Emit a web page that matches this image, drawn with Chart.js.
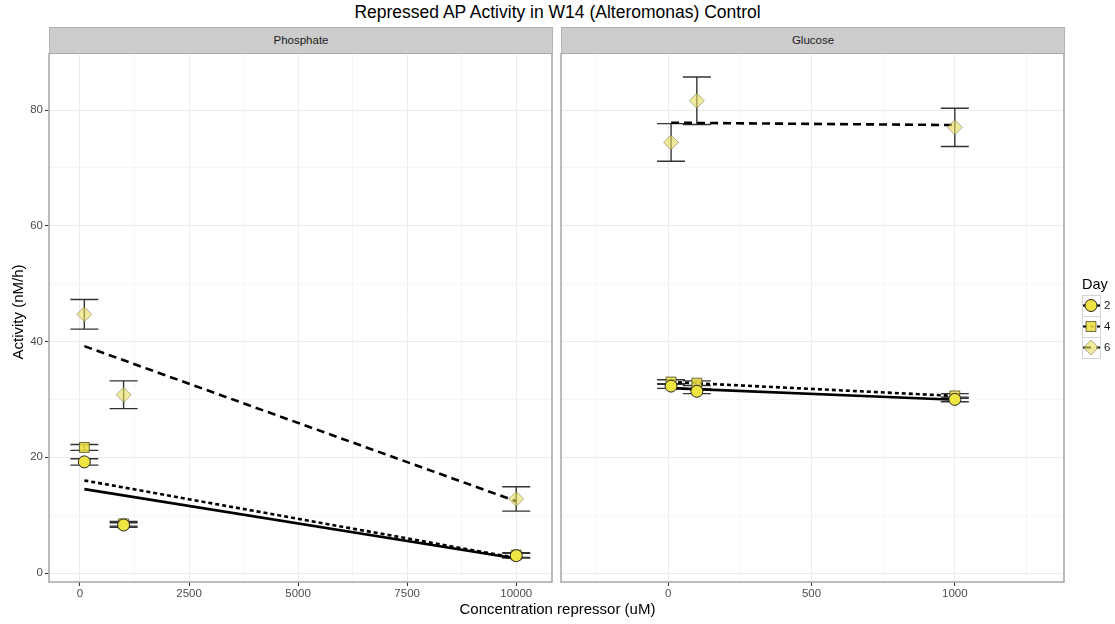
<!DOCTYPE html>
<html>
<head>
<meta charset="utf-8">
<title>Repressed AP Activity in W14 (Alteromonas) Control</title>
<script src="https://cdn.jsdelivr.net/npm/chart.js@4.4.1/dist/chart.umd.min.js"></script>
<style>
  body { margin: 0; background: #fff; font-family: "Liberation Sans", Arial, sans-serif; }
  #wrap { position: relative; width: 1115px; height: 624px; overflow: hidden; }
  canvas { position: absolute; }
  .txt { position: absolute; white-space: nowrap; color: #000; }
  .strip { position: absolute; top: 27px; height: 27px; background: #cccccc; border: 1px solid #b3b3b3;
           box-sizing: border-box; font-size: 11.5px; color: #1a1a1a; text-align: center; line-height: 25px; }
  .lab { position: absolute; font-size: 11.5px; color: #1a1a1a; }
</style>
</head>
<body>
<div id="wrap">
  <div class="txt" style="left:0;width:1115px;top:2px;text-align:center;font-size:17.5px;">Repressed AP Activity in W14 (Alteromonas) Control</div>
  <div class="strip" style="left:49px;width:504px;">Phosphate</div>
  <div class="strip" style="left:561px;width:504px;">Glucose</div>
  <canvas id="phosphate" width="557" height="571" style="left:0;top:53px"></canvas>
  <canvas id="glucose" width="558" height="571" style="left:557px;top:53px"></canvas>
  <div class="txt" style="left:0;width:1115px;top:600px;text-align:center;font-size:15px;">Concentration repressor (uM)</div>
  <div class="txt" style="left:-42px;top:303px;width:120px;height:18px;line-height:18px;text-align:center;font-size:15px;transform:rotate(-90deg);">Activity (nM/h)</div>
  <div class="txt" style="left:1082px;top:276px;font-size:14.5px;">Day</div>
  <div class="lab" style="left:1104px;top:299px;">2</div>
  <div class="lab" style="left:1104px;top:320px;">4</div>
  <div class="lab" style="left:1104px;top:341px;">6</div>
</div>
<script>
// concentrations per facet
const phosphateConc = [100, 1000, 10000]
const glucoseConc = [10, 100, 1000]

// mean activity (nM/h) by day
const phosDay2 = [19.2, 8.3, 3.0]
const phosDay4 = [21.7, 8.5, 3.1]
const phosDay6 = [44.7, 30.8, 12.8]
const glucDay2 = [32.3, 31.4, 30.0]
const glucDay4 = [33.0, 32.8, 30.6]
const glucDay6 = [74.4, 81.6, 77.0]

// standard deviations
const phosDay2Sd = [0.55, 0.4, 0.4]
const phosDay4Sd = [0.5, 0.4, 0.4]
const phosDay6Sd = [2.55, 2.4, 2.1]
const glucDay2Sd = [0.4, 0.4, 0.4]
const glucDay4Sd = [0.4, 0.4, 0.4]
const glucDay6Sd = [3.25, 4.1, 3.3]

// linear fit ends (first and last concentration)
const phosFit2 = [14.5, 2.5]
const phosFit4 = [16.0, 2.6]
const phosFit6 = [39.2, 12.4]
const glucFit2 = [31.95, 29.95]
const glucFit4 = [33.0, 30.6]
const glucFit6 = [77.8, 77.4]

// axis ticks
const yMajor = [0, 20, 40, 60, 80]
const yMinor = [10, 30, 50, 70]
const phosXMajor = [0, 2500, 5000, 7500, 10000]
const phosXMinor = [1250, 3750, 6250, 8750]
const glucXMajor = [0, 500, 1000]
const glucXMinor = [-250, 250, 750, 1250]

const days = ['2', '4', '6']
const dayStyle = {
  '2': { pointStyle: 'circle', radius: 6, fill: '#f0e442', stroke: '#222', dash: [] },
  '4': { pointStyle: 'rect', radius: 7, fill: 'rgba(236,222,60,0.85)', stroke: 'rgba(60,60,30,0.75)', dash: [4, 3] },
  '6': { pointStyle: 'rectRot', radius: 7.5, fill: 'rgba(232,220,90,0.6)', stroke: 'rgba(90,90,60,0.45)', dash: [8, 5] },
}

const tickFont = { family: '"Liberation Sans", Arial, sans-serif', size: 11.5 }

const errorBarPlugin = {
  id: 'errorBars',
  beforeDatasetsDraw(chart, args, opts) {
    const { ctx, scales: { x, y } } = chart
    ctx.save()
    ctx.strokeStyle = '#333'
    ctx.lineWidth = 1.4
    opts.sets.forEach(set => {
      set.x.forEach((xv, i) => {
        const px = x.getPixelForValue(xv)
        const lo = y.getPixelForValue(set.y[i] - set.sd[i])
        const hi = y.getPixelForValue(set.y[i] + set.sd[i])
        ctx.beginPath()
        ctx.moveTo(px, lo); ctx.lineTo(px, hi)
        ctx.moveTo(px - 14, lo); ctx.lineTo(px + 14, lo)
        ctx.moveTo(px - 14, hi); ctx.lineTo(px + 14, hi)
        ctx.stroke()
      })
    })
    ctx.restore()
  },
}

const panelBorder = {
  id: 'panelBorder',
  afterDraw(chart) {
    const { ctx, chartArea: a } = chart
    ctx.save()
    ctx.strokeStyle = '#a6a6a6'
    ctx.lineWidth = 1.5
    ctx.strokeRect(a.left, a.top, a.right - a.left, a.bottom - a.top)
    ctx.restore()
  },
}

// legend keys: fit line + point glyph inside a small box
const legendKeys = {
  id: 'legendKeys',
  afterDraw(chart) {
    const ctx = chart.ctx
    const left = 1082 - 557, top0 = 295 - 53, w = 18, h = 21
    days.forEach((d, i) => {
      const s = dayStyle[d]
      const top = top0 + i * h
      const cy = top + h / 2, cx = left + w / 2
      ctx.save()
      ctx.strokeStyle = '#d4d4d4'
      ctx.lineWidth = 1
      ctx.strokeRect(left + 0.5, top + 0.5, w, h)
      ctx.strokeStyle = '#000'
      ctx.lineWidth = 2.2
      ctx.setLineDash(s.dash)
      ctx.beginPath()
      ctx.moveTo(left + 1, cy); ctx.lineTo(left + w, cy)
      ctx.stroke()
      ctx.setLineDash([])
      ctx.fillStyle = s.fill
      ctx.strokeStyle = s.stroke
      ctx.lineWidth = 1
      Chart.helpers.drawPoint(ctx, { pointStyle: s.pointStyle, radius: s.radius, rotation: 0, borderWidth: 1 }, cx, cy)
      ctx.restore()
    })
  },
}

function panel(id, conc, means, sds, fits, xMin, xMax, xMajor, xMinor, isLeft, extraPlugins) {
  const datasets = []
  days.forEach((d, i) => {
    const s = dayStyle[d]
    datasets.push({
      type: 'scatter',
      data: conc.map((c, k) => ({ x: c, y: means[i][k] })),
      pointStyle: s.pointStyle,
      pointRadius: s.radius,
      backgroundColor: s.fill,
      borderColor: s.stroke,
      borderWidth: 1,
      order: i + 1,
    })
    datasets.push({
      type: 'line',
      data: [{ x: conc[0], y: fits[i][0] }, { x: conc[conc.length - 1], y: fits[i][1] }],
      borderColor: '#000',
      borderWidth: 2.6,
      borderDash: s.dash,
      pointRadius: 0,
      fill: false,
      order: 10,
    })
  })

  const xTicks = [...xMajor, ...xMinor].sort((a, b) => a - b)
  const yTicks = [...yMajor, ...yMinor].sort((a, b) => a - b)

  return new Chart(document.getElementById(id), {
    data: { datasets },
    options: {
      responsive: false,
      animation: false,
      devicePixelRatio: 1,
      layout: { autoPadding: false, padding: { top: 0, left: 0, bottom: 0, right: isLeft ? 5 : 51 } },
      plugins: {
        legend: { display: false },
        tooltip: { enabled: false },
        errorBars: { sets: days.map((d, i) => ({ x: conc, y: means[i], sd: sds[i] })) },
      },
      scales: {
        x: {
          type: 'linear',
          min: xMin,
          max: xMax,
          afterBuildTicks: s => { s.ticks = xTicks.map(v => ({ value: v })) },
          afterFit: s => { s.height = 42; s.paddingLeft = 0; s.paddingRight = 0 },
          ticks: {
            autoSkip: false, maxRotation: 0, padding: 1, color: '#4d4d4d', font: tickFont,
            callback: v => xMajor.includes(v) ? String(v) : '',
          },
          grid: {
            color: c => xMajor.includes(c.tick.value) ? '#ebebeb' : '#f6f6f6',
            tickColor: c => xMajor.includes(c.tick.value) ? '#333' : 'rgba(0,0,0,0)',
            tickLength: 4,
          },
          border: { display: false },
        },
        y: {
          type: 'linear',
          min: -1.55,
          max: 89.85,
          afterBuildTicks: s => { s.ticks = yTicks.map(v => ({ value: v })) },
          afterFit: s => { s.width = isLeft ? 49 : 4; s.paddingTop = 0; s.paddingBottom = 0 },
          ticks: {
            display: isLeft, autoSkip: false, padding: 2, color: '#4d4d4d', font: tickFont,
            callback: v => yMajor.includes(v) ? String(v) : '',
          },
          grid: {
            color: c => yMajor.includes(c.tick.value) ? '#ebebeb' : '#f6f6f6',
            tickColor: c => yMajor.includes(c.tick.value) ? '#333' : 'rgba(0,0,0,0)',
            tickLength: 4,
            drawTicks: isLeft,
          },
          border: { display: false },
        },
      },
    },
    plugins: [errorBarPlugin, panelBorder, ...extraPlugins],
  })
}

panel('phosphate', phosphateConc,
  [phosDay2, phosDay4, phosDay6], [phosDay2Sd, phosDay4Sd, phosDay6Sd], [phosFit2, phosFit4, phosFit6],
  -710, 10820, phosXMajor, phosXMinor, true, [])

panel('glucose', glucoseConc,
  [glucDay2, glucDay4, glucDay6], [glucDay2Sd, glucDay4Sd, glucDay6Sd], [glucFit2, glucFit4, glucFit6],
  -374, 1381, glucXMajor, glucXMinor, false, [legendKeys])
</script>
</body>
</html>
